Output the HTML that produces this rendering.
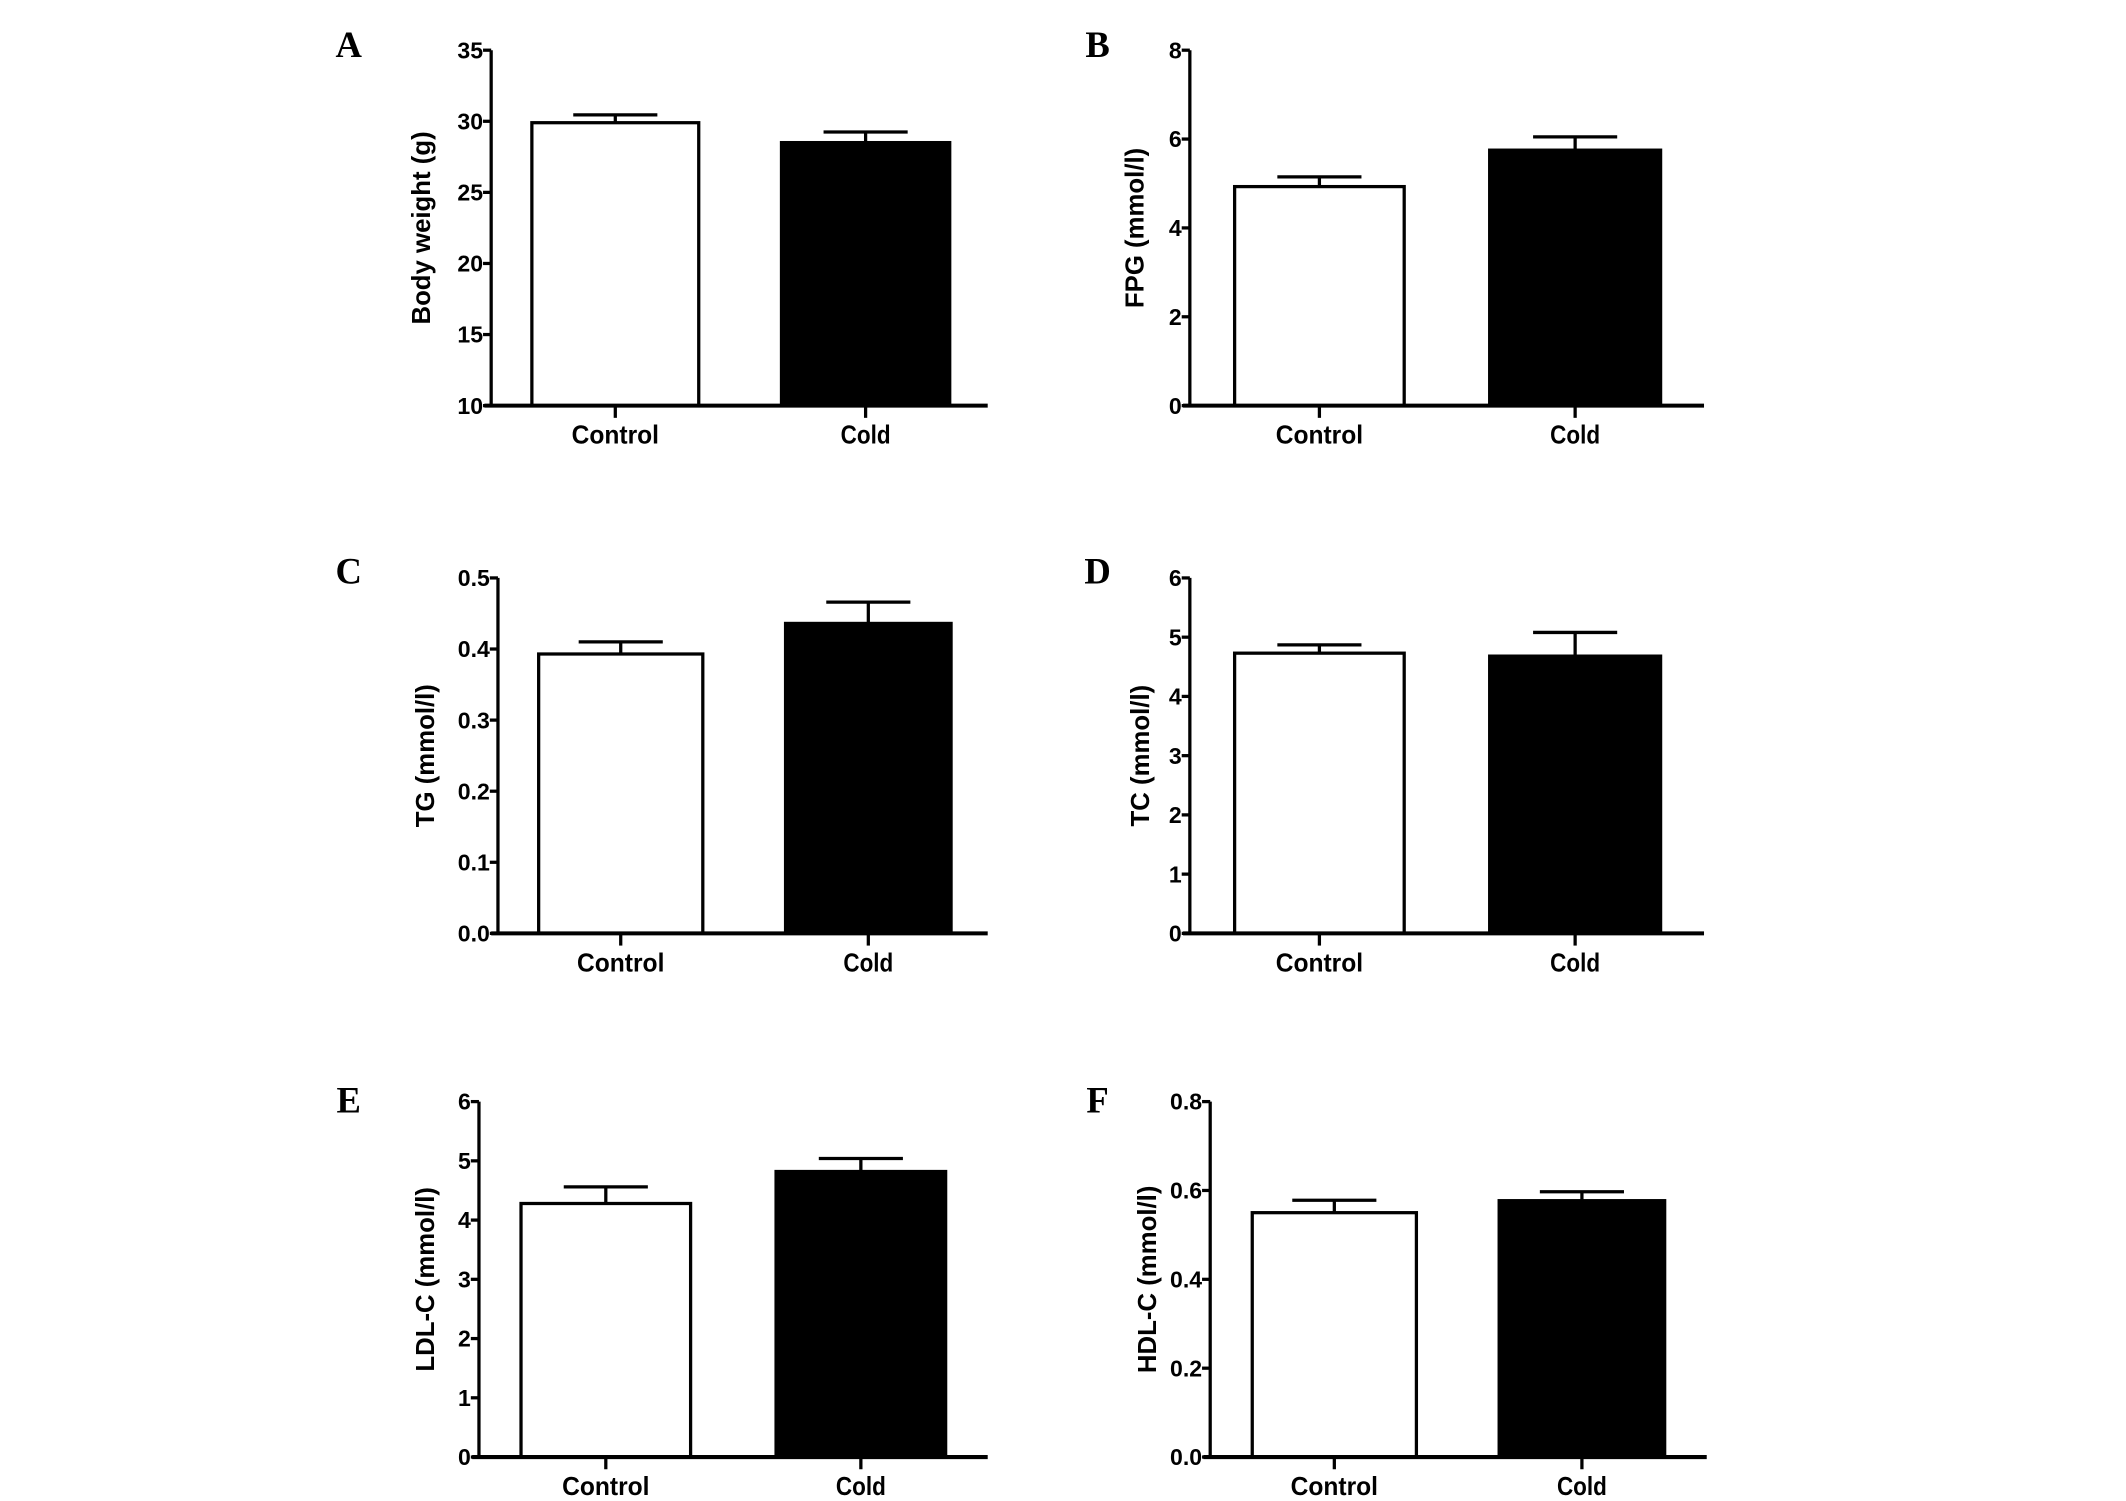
<!DOCTYPE html>
<html><head><meta charset="utf-8"><style>
html,body{margin:0;padding:0;background:#fff;}
svg{display:block;}
text{font-family:"Liberation Sans",Arial,sans-serif;font-weight:bold;fill:#000;}
.letter{font-family:"Liberation Serif",serif;font-size:27px;}
</style></head><body>
<svg id="fig" width="2126" height="1501" viewBox="0 0 1567 1106.4" xmlns="http://www.w3.org/2000/svg"></svg>
<script>
const categories = ["Control", "Cold"];
const panelLetters = ["A", "B", "C", "D", "E", "F"];
const yTitles = ["Body weight (g)", "FPG (mmol/l)", "TG (mmol/l)", "TC (mmol/l)", "LDL-C (mmol/l)", "HDL-C (mmol/l)"];
const meansA = [29.9, 28.5];
const errsA = [0.55, 0.75];
const meansB = [4.93, 5.75];
const errsB = [0.22, 0.3];
const meansC = [0.393, 0.436];
const errsC = [0.017, 0.03];
const meansD = [4.73, 4.68];
const errsD = [0.14, 0.4];
const meansE = [4.28, 4.82];
const errsE = [0.28, 0.22];
const meansF = [0.55, 0.577];
const errsF = [0.028, 0.02];
const ticksA = [10, 15, 20, 25, 30, 35];
const ticksB = [0, 2, 4, 6, 8];
const ticksC = [0.0, 0.1, 0.2, 0.3, 0.4, 0.5];
const ticksD = [0, 1, 2, 3, 4, 5, 6];
const ticksE = [0, 1, 2, 3, 4, 5, 6];
const ticksF = [0.0, 0.2, 0.4, 0.6, 0.8];
const tickDecimals = [0, 0, 1, 0, 0, 1];

const allMeans = [meansA, meansB, meansC, meansD, meansE, meansF];
const allErrs = [errsA, errsB, errsC, errsD, errsE, errsF];
const allTicks = [ticksA, ticksB, ticksC, ticksD, ticksE, ticksF];

const layouts = [
  {ax:362, top:37, bot:299, xEnd:728, bars:[[392,515],[576,700]], lx:257, ly:33, tx:310},
  {ax:877, top:37, bot:299, xEnd:1256, bars:[[910,1035],[1098,1224]], lx:809, ly:33, tx:836},
  {ax:367, top:426, bot:688, xEnd:728, bars:[[397,518],[579,701]], lx:257, ly:421, tx:313},
  {ax:877, top:426, bot:688, xEnd:1256, bars:[[910,1035],[1098,1224]], lx:809, ly:421, tx:840},
  {ax:353, top:812, bot:1074, xEnd:728, bars:[[384,509],[572,697]], lx:257, ly:811, tx:313},
  {ax:892, top:812, bot:1074, xEnd:1258, bars:[[923,1044],[1105,1227]], lx:809, ly:811, tx:845}
];

const svg = document.getElementById('fig');
const NS = 'http://www.w3.org/2000/svg';
function mk(tag, attrs, parent) {
  const e = document.createElementNS(NS, tag);
  for (const k in attrs) e.setAttribute(k, attrs[k]);
  parent.appendChild(e);
  return e;
}
const LW = 2.4;

for (let p = 0; p < 6; p++) {
  const L = layouts[p];
  const ticks = allTicks[p];
  const vmin = ticks[0], vmax = ticks[ticks.length - 1];
  const y = v => L.bot - (v - vmin) / (vmax - vmin) * (L.bot - L.top);
  const g = mk('g', {}, svg);
  
  

  const letter = mk('text', {x: L.lx, y: L.ly + 9, 'text-anchor': 'middle', class: 'letter'}, g);
  letter.textContent = panelLetters[p];
  
  

  for (let i = 0; i < 2; i++) {
    const m = allMeans[p][i], e = allErrs[p][i];
    const [x0, x1] = L.bars[i];
    const cx = (x0 + x1) / 2;
    const eb = mk('g', {}, g);
    
    
    mk('line', {x1: cx, x2: cx, y1: y(m), y2: y(m + e), stroke: '#000', 'stroke-width': LW}, eb);
    mk('line', {x1: cx - 31, x2: cx + 31, y1: y(m + e), y2: y(m + e), stroke: '#000', 'stroke-width': LW}, eb);
    const r = mk('rect', {x: x0, y: y(m), width: x1 - x0, height: L.bot - y(m),
      fill: i === 0 ? '#fff' : '#000', stroke: '#000', 'stroke-width': LW}, g);
    
    
    mk('line', {x1: cx, x2: cx, y1: L.bot, y2: L.bot + 9, stroke: '#000', 'stroke-width': LW}, g);
    const lab = mk('text', {x: cx, y: L.bot + 28, 'text-anchor': 'middle', 'font-size': 19,
      textLength: categories[i].length * 9.2, lengthAdjust: 'spacingAndGlyphs'}, g);
    lab.textContent = categories[i];
    
    
  }

  const ya = mk('line', {x1: L.ax, x2: L.ax, y1: L.top, y2: L.bot + 1, stroke: '#000', 'stroke-width': LW}, g);
  
  
  const xa = mk('line', {x1: L.ax - 5, x2: L.xEnd, y1: L.bot, y2: L.bot, stroke: '#000', 'stroke-width': LW + 0.6}, g);
  
  

  for (const t of ticks) {
    mk('line', {x1: L.ax - 6, x2: L.ax, y1: y(t), y2: y(t), stroke: '#000', 'stroke-width': LW}, g);
    const tl = mk('text', {x: L.ax - 6, y: y(t) + 6, 'text-anchor': 'end', 'font-size': 17}, g);
    tl.textContent = t.toFixed(tickDecimals[p]);
    
    
  }

  const cy = (L.top + L.bot) / 2;
  const tt = mk('text', {x: L.tx, y: cy, 'text-anchor': 'middle', 'font-size': 19,
    transform: 'rotate(-90 ' + L.tx + ' ' + cy + ')', dy: 7}, g);
  tt.textContent = yTitles[p];
  
  
}
</script>
</body></html>
